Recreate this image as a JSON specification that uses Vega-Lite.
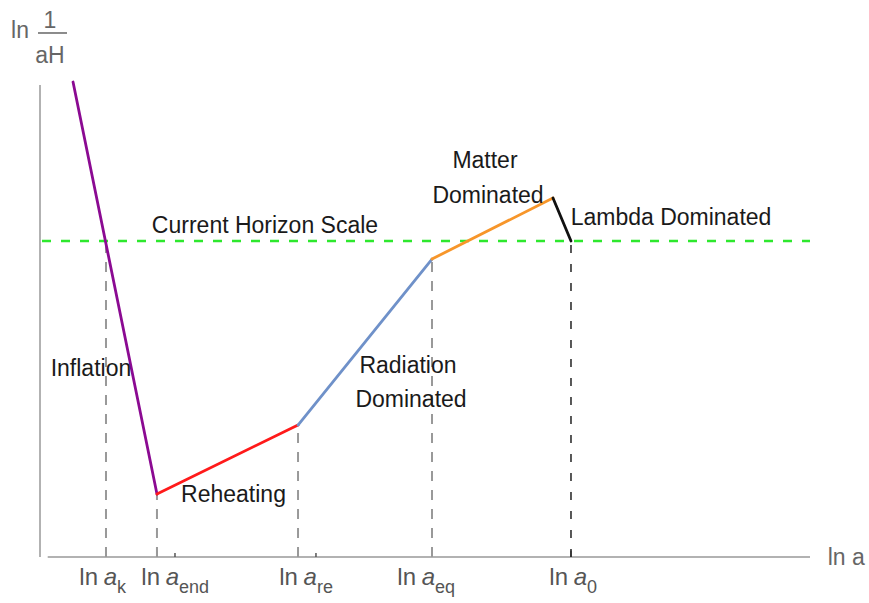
{
  "$schema": "https://vega.github.io/schema/vega-lite/v6.json",
  "width": 770,
  "height": 537,
  "autosize": {"type": "none"},
  "padding": {"left": 40, "top": 20, "right": 59, "bottom": 46},
  "background": "white",
  "config": {"view": {"stroke": null}, "text": {"font": "Liberation Sans"}},
  "datasets": {
    "axes": [
      {"x": 1, "x2": 100, "y": 0, "y2": 0},
      {"x": 0, "x2": 0, "y": 0, "y2": 87.9}
    ],
    "ticks": [
      {"x": 8.57, "len": 1.2},
      {"x": 15.19, "len": 1.2},
      {"x": 17.53, "len": 0.75},
      {"x": 33.51, "len": 1.2},
      {"x": 35.84, "len": 0.75},
      {"x": 50.91, "len": 1.2},
      {"x": 68.96, "len": 1.2}
    ],
    "guides": [
      {"x": 8.57, "top": 58.85, "kind": "gray"},
      {"x": 15.19, "top": 11.73, "kind": "gray"},
      {"x": 33.51, "top": 24.58, "kind": "gray"},
      {"x": 50.91, "top": 55.49, "kind": "gray"},
      {"x": 68.96, "top": 58.85, "kind": "black"}
    ],
    "horizon": [{"x": 0.26, "x2": 100, "y": 58.85}],
    "phases": [
      {"phase": "Inflation", "x": 4.29, "y": 88.45, "x2": 15.19, "y2": 11.73},
      {"phase": "Reheating", "x": 15.19, "y": 11.73, "x2": 33.51, "y2": 24.58},
      {"phase": "Radiation", "x": 33.51, "y": 24.58, "x2": 50.91, "y2": 55.49},
      {"phase": "Matter", "x": 50.91, "y": 55.49, "x2": 66.62, "y2": 66.85},
      {"phase": "Lambda", "x": 66.62, "y": 66.85, "x2": 68.96, "y2": 58.85}
    ],
    "notes": [
      {"text": "Inflation", "x": 6.62, "y": 33.71},
      {"text": "Reheating", "x": 25.13, "y": 10.24},
      {"text": "Radiation", "x": 47.79, "y": 34.26},
      {"text": "Dominated", "x": 48.18, "y": 27.93},
      {"text": "Matter", "x": 57.79, "y": 72.44},
      {"text": "Dominated", "x": 58.18, "y": 65.92},
      {"text": "Lambda Dominated", "x": 81.95, "y": 61.82},
      {"text": "Current Horizon Scale", "x": 29.22, "y": 60.34}
    ],
    "ticklabels": [
      {"sub": "k", "x": 10.0, "y": -5.21, "ys": -6.7},
      {"sub": "end", "x": 18.05, "y": -5.21, "ys": -6.7},
      {"sub": "re", "x": 35.97, "y": -5.21, "ys": -6.7},
      {"sub": "eq", "x": 51.3, "y": -5.21, "ys": -6.7},
      {"sub": "0", "x": 71.04, "y": -5.21, "ys": -6.7}
    ],
    "ylabel": [
      {"label": "ln", "x": -2.6, "y": 96.65},
      {"label": "1", "x": 1.3, "y": 98.51},
      {"label": "aH", "x": 1.3, "y": 91.99}
    ]
  },
  "encoding": {
    "x": {"field": "x", "type": "quantitative", "scale": {"domain": [0, 100], "nice": false, "zero": false}, "axis": null},
    "y": {"field": "y", "type": "quantitative", "scale": {"domain": [0, 100], "nice": false, "zero": false}, "axis": null}
  },
  "layer": [
    {
      "data": {"name": "axes"},
      "mark": {"type": "rule", "color": "#999999", "strokeWidth": 1.5},
      "encoding": {"x2": {"field": "x2"}, "y2": {"field": "y2"}}
    },
    {
      "data": {"name": "ticks"},
      "transform": [{"calculate": "0", "as": "y"}],
      "mark": {"type": "rule", "color": "#555555", "strokeWidth": 1.5},
      "encoding": {"y2": {"field": "len"}}
    },
    {
      "data": {"name": "guides"},
      "transform": [{"filter": "datum.kind === 'gray'"}, {"calculate": "0", "as": "y"}],
      "mark": {"type": "rule", "color": "#999999", "strokeWidth": 2, "strokeDash": [10, 9]},
      "encoding": {"y2": {"field": "top"}}
    },
    {
      "data": {"name": "guides"},
      "transform": [{"filter": "datum.kind === 'black'"}, {"calculate": "0", "as": "y"}],
      "mark": {"type": "rule", "color": "#222222", "strokeWidth": 1.5, "strokeDash": [8, 11]},
      "encoding": {"y2": {"field": "top"}}
    },
    {
      "data": {"name": "horizon"},
      "mark": {"type": "rule", "color": "#2EE82E", "strokeWidth": 2.5, "strokeDash": [9, 10]},
      "encoding": {"x2": {"field": "x2"}}
    },
    {
      "data": {"name": "phases"},
      "mark": {"type": "rule", "strokeWidth": 2.8, "strokeCap": "round"},
      "encoding": {
        "x2": {"field": "x2"},
        "y2": {"field": "y2"},
        "color": {
          "field": "phase",
          "type": "nominal",
          "scale": {
            "domain": ["Inflation", "Reheating", "Radiation", "Matter", "Lambda"],
            "range": ["#8B0A92", "#FF1A1A", "#6F91C9", "#F7962A", "#111111"]
          },
          "legend": null
        }
      }
    },
    {
      "data": {"name": "notes"},
      "mark": {"type": "text", "fontSize": 23, "color": "#1a1a1a", "align": "center", "baseline": "alphabetic"},
      "encoding": {"text": {"field": "text"}}
    },
    {
      "data": {"name": "ticklabels"},
      "mark": {"type": "text", "fontSize": 24, "color": "#555555", "align": "right", "baseline": "alphabetic", "dx": -19},
      "encoding": {"text": {"value": "ln"}}
    },
    {
      "data": {"name": "ticklabels"},
      "mark": {"type": "text", "fontSize": 24, "fontStyle": "italic", "color": "#555555", "align": "right", "baseline": "alphabetic"},
      "encoding": {"text": {"value": "a"}}
    },
    {
      "data": {"name": "ticklabels"},
      "mark": {"type": "text", "fontSize": 18, "color": "#555555", "align": "left", "baseline": "alphabetic"},
      "encoding": {"y": {"field": "ys", "type": "quantitative"}, "text": {"field": "sub"}}
    },
    {
      "data": {"values": [{"label": "ln a", "x": 102.3, "y": -1.49}]},
      "mark": {"type": "text", "fontSize": 23, "color": "#666666", "align": "left", "baseline": "alphabetic"},
      "encoding": {"text": {"field": "label"}}
    },
    {
      "data": {"name": "ylabel"},
      "mark": {"type": "text", "fontSize": 23, "color": "#666666", "align": "center", "baseline": "alphabetic"},
      "encoding": {"text": {"field": "label"}}
    },
    {
      "data": {"values": [{"x": -0.26, "x2": 3.51, "y": 97.58}]},
      "mark": {"type": "rule", "color": "#666666", "strokeWidth": 1.5},
      "encoding": {"x2": {"field": "x2"}}
    }
  ]
}
